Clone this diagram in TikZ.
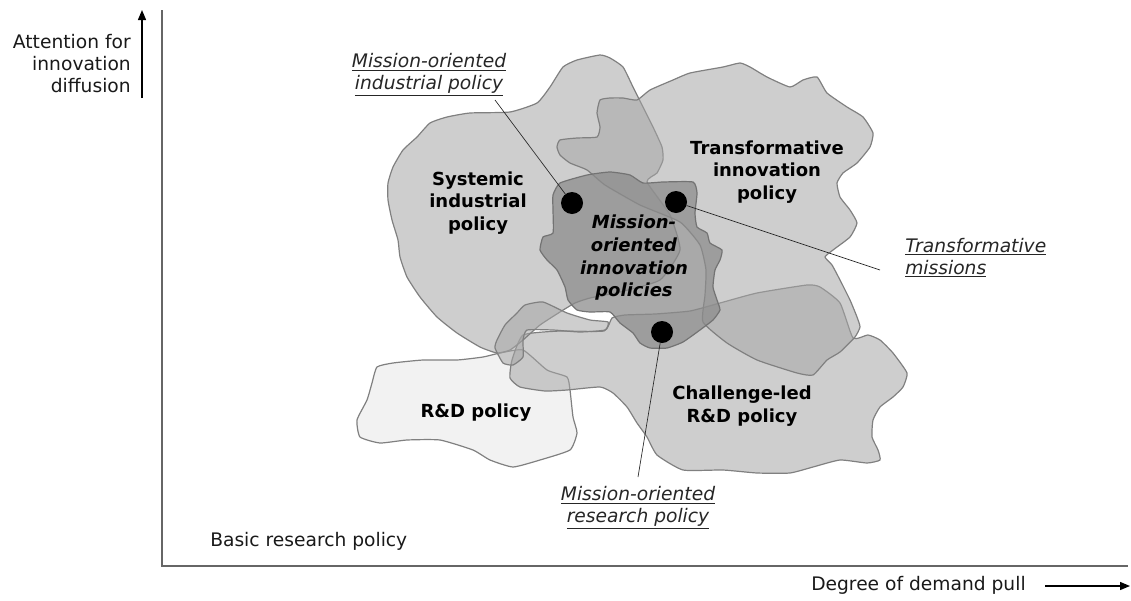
\documentclass[tikz,border=0pt]{standalone}
\usepackage{fontspec}
\setmainfont{DejaVu Sans}
\usetikzlibrary{arrows.meta, positioning}

\begin{document}
\begin{tikzpicture}[
    x=0.75pt, y=-0.75pt,
    blob/.style={draw=black!50, line width=0.9pt, fill=black!35, fill opacity=0.55},
    paleblob/.style={draw=black!50, line width=0.9pt, fill=black!5},
    core/.style={draw=black!55, line width=0.9pt, fill=black!45, fill opacity=0.75},
    region/.style={font=\fontsize{13.5}{17}\selectfont\bfseries, align=center, inner sep=0pt},
    callout/.style={font=\fontsize{14}{16.5}\selectfont\itshape, align=center, inner sep=0pt, text=black!85},
    axislabel/.style={font=\fontsize{14}{16.5}\selectfont, inner sep=0pt, text=black!90},
    hub/.style={circle, fill=black, minimum size=16.5pt, inner sep=0pt},
    leader/.style={black!85, line width=0.5pt},
    axis/.style={black!60, line width=1.1pt},
    arrow/.style={line width=1pt, ->, >={Triangle[length=7.5pt, width=6pt]}}
]
\useasboundingbox (0,0) rectangle (1131,600);

% R&D policy
\draw[paleblob] plot[smooth cycle, tension=0.3] coordinates {(377,367) (393,363) (423,360) (457,360) (483,357) (500,353) (523,350) (547,370) (567,377) (570,390) (573,417) (577,433) (570,450) (540,460) (513,467) (490,460) (473,450) (440,440) (407,440) (380,443) (360,437) (357,420) (367,400) (372,383)};

% Challenge-led R&D policy
\draw[blob] plot[smooth cycle, tension=0.3] coordinates {(523,335) (512,360) (510,378) (520,387) (545,391) (567,390) (600,387) (613,393) (627,407) (637,423) (647,437) (657,455) (683,470) (723,470) (757,473) (790,473) (813,467) (840,460) (867,463) (880,460) (878,450) (872,437) (873,420) (880,407) (893,397) (903,387) (907,373) (893,353) (880,340) (868,335) (853,338) (840,303) (820,287) (807,285) (757,293) (720,303) (690,311) (655,314) (625,315) (612,318) (604,331) (560,331)};

% Systemic industrial policy
\draw[blob] plot[smooth cycle, tension=0.3] coordinates {(600,55) (610,58) (623,67) (633,87) (643,107) (653,127) (662,147) (663,160) (657,173) (647,182) (670,215) (680,250) (660,280) (620,292) (590,298) (575,303) (560,312) (540,325) (523,340) (510,350) (497,353) (480,347) (457,333) (437,317) (420,297) (407,277) (400,257) (398,240) (392,220) (388,200) (388,183) (393,167) (403,150) (417,137) (430,123) (447,117) (470,113) (510,112) (537,103) (550,87) (563,67) (577,60)};

% Transformative innovation policy
\draw[blob] plot[smooth cycle, tension=0.3] coordinates {(637,100) (650,90) (673,80) (690,73) (723,67) (740,63) (750,67) (767,77) (790,87) (803,80) (817,77) (827,93) (847,107) (863,117) (873,133) (870,147) (857,163) (843,173) (837,183) (840,197) (850,210) (857,223) (850,237) (833,250) (825,257) (832,265) (840,280) (850,300) (857,317) (860,327) (855,337) (840,352) (827,360) (813,375) (797,373) (757,360) (727,343) (703,322) (705,295) (706,270) (700,245) (680,222) (640,205) (605,185) (587,170) (570,163) (560,155) (557,147) (560,140) (577,138) (597,137) (600,127) (597,113) (600,100) (610,98) (623,98)};

% small overlap
\draw[blob] plot[smooth cycle, tension=0.3] coordinates {(497,340) (505,325) (517,313) (525,305) (543,302) (567,313) (590,320) (608,322) (605,330) (580,332) (553,330) (527,330) (523,340) (523,357) (513,365) (503,363) (495,348)};

% Mission-oriented innovation policies
\draw[core] plot[smooth cycle, tension=0.3] coordinates {(560,183) (587,175) (610,172) (630,175) (643,183) (663,182) (693,182) (697,193) (695,213) (697,227) (707,233) (710,243) (722,250) (720,260) (715,270) (713,287) (717,300) (720,310) (713,320) (700,330) (683,342) (667,348) (650,348) (640,343) (633,333) (620,323) (610,312) (590,312) (577,310) (568,300) (565,287) (557,270) (547,260) (540,250) (543,237) (553,233) (553,210) (553,195)};

% Axes
\coordinate (origin) at (162,566);
\coordinate (ytop) at (162,10);
\coordinate (xend) at (1128,566);
\draw[axis] (ytop) -- (origin) -- (xend);

% Direction arrows
\coordinate (upfoot) at (142,98);
\coordinate (uphead) at (142,10);
\draw[arrow] (upfoot) -- (uphead);
\node[axislabel, align=right, anchor=east] (attn) at (131,64) {Attention for\\innovation\\diffusion};

\node[axislabel, anchor=west] (demand) at (811,585) {Degree of demand pull};
\coordinate (rightfoot) at (1045,586);
\coordinate (righthead) at (1130,586);
\draw[arrow] (rightfoot) -- (righthead);

\node[axislabel, anchor=west] (basic) at (210,541) {Basic research policy};

% Region labels
\node[region] (sysind) at (478,203) {Systemic\\industrial\\policy};
\node[region] (transinn) at (767,172) {Transformative\\innovation\\policy};
\node[region] (chall) at (742,406) {Challenge-led\\R\&D policy};
\node[region] (rnd) at (476,413) {R\&D policy};
\node[region, font=\fontsize{13.5}{17}\selectfont\bfseries\itshape] (mission) at (634,258) {Mission-\\oriented\\innovation\\policies};

% Mission points
\node[hub] (hubind) at (572,203) {};
\node[hub] (hubtrans) at (676,202) {};
\node[hub] (hubres) at (662,332) {};

% Callouts
\node[callout] (labind) at (429,75) {\underline{Mission-oriented}\\\underline{industrial policy}};
\node[callout, align=left, anchor=west] (labtrans) at (905,258) {\underline{Transformative}\\\underline{missions}};
\node[callout] (labres) at (638,508) {\underline{Mission-oriented}\\\underline{research policy}};

\coordinate (indend) at (495,100);
\coordinate (transend) at (880,270);
\coordinate (resend) at (638,477);
\draw[leader] (indend) -- (hubind);
\draw[leader] (hubtrans) -- (transend);
\draw[leader] (hubres) -- (resend);

\end{tikzpicture}
\end{document}
